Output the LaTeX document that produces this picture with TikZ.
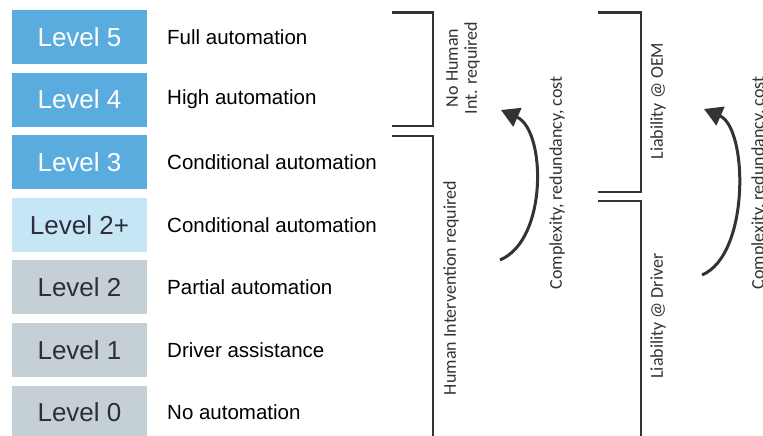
\documentclass[tikz,border=0pt]{standalone}
\usepackage{fontspec}
\setmainfont{Liberation Sans}
\newfontfamily\calfont{Carlito}
\usetikzlibrary{arrows.meta}
\definecolor{lvblue}{HTML}{5BACDE}
\definecolor{lvlight}{HTML}{C6E6F6}
\definecolor{lvgray}{HTML}{C4D0D6}
\definecolor{lvdark}{HTML}{2D2D3C}
\definecolor{linec}{HTML}{333333}
\begin{document}
\begin{tikzpicture}[x=1pt,y=-1pt,
  lvbox/.style={minimum width=135pt,minimum height=54pt,inner sep=0pt,
    font=\fontsize{26}{30}\selectfont},
  lvtop/.style={lvbox,fill=lvblue,text=white},
  lvmid/.style={lvbox,fill=lvlight,text=lvdark},
  lvlow/.style={lvbox,fill=lvgray,text=lvdark},
  desc/.style={anchor=west,inner sep=0pt,text=black,
    font=\fontsize{20.5}{24}\selectfont},
  rot/.style={rotate=90,inner sep=0pt,align=center,text=linec,
    font=\calfont\fontsize{18}{19}\selectfont},
  brk/.style={draw=linec,line width=2.8pt},
  curv/.style={draw=linec,line width=3pt,-{Triangle[length=18pt,width=20pt]}}
]
\useasboundingbox (0,0) rectangle (763,436);
\fill[white] (0,0) rectangle (763,436);
\clip (0,0) rectangle (763,436);

% level boxes
\node[lvtop] (l5) at (79.5,37.0) {Level 5};
\node[lvtop] (l4) at (79.5,99.6) {Level 4};
\node[lvtop] (l3) at (79.5,162.2) {Level 3};
\node[lvmid] (l2p) at (79.5,224.8) {Level 2+};
\node[lvlow] (l2) at (79.5,287.4) {Level 2};
\node[lvlow] (l1) at (79.5,350.0) {Level 1};
\node[lvlow] (l0) at (79.5,412.6) {Level 0};

% descriptions
\node[desc] (d5) at (167,37.0) {Full automation};
\node[desc] (d4) at (167,99.6) {High automation};
\node[desc] (d3) at (167,162.2) {Conditional automation};
\node[desc] (d2p) at (167,224.8) {Conditional automation};
\node[desc] (d2) at (167,287.4) {Partial automation};
\node[desc] (d1) at (167,350.0) {Driver assistance};
\node[desc] (d0) at (167,412.6) {No automation};

% left brackets
\draw[brk] (392,12.7) -| (433,126) -- (392,126);
\draw[brk] (392,136) -| (433,440);
\node[rot] (nohuman) at (463,68) {No Human\\Int. required};
\node[rot] (human) at (451,288) {Human Intervention required};

% right brackets
\draw[brk] (598,12.7) -| (641,192) -- (598,192);
\draw[brk] (598,201) -| (641,440);
\node[rot] (oem) at (658,101) {Liability @ OEM};
\node[rot] (driver) at (658,316) {Liability @ Driver};

% curved arrows
\coordinate (a1s) at (500,260);
\coordinate (a1e) at (501,110);
\draw[curv] (a1s) .. controls (548,240) and (546,130) .. (a1e);
\node[rot] (cx1) at (557,183) {Complexity, redundancy, cost};

\coordinate (a2s) at (702,275);
\coordinate (a2e) at (704,109);
\draw[curv] (a2s) .. controls (750,255) and (748,128) .. (a2e);
\node[rot] (cx2) at (759,183) {Complexity, redundancy, cost};
\end{tikzpicture}
\end{document}
